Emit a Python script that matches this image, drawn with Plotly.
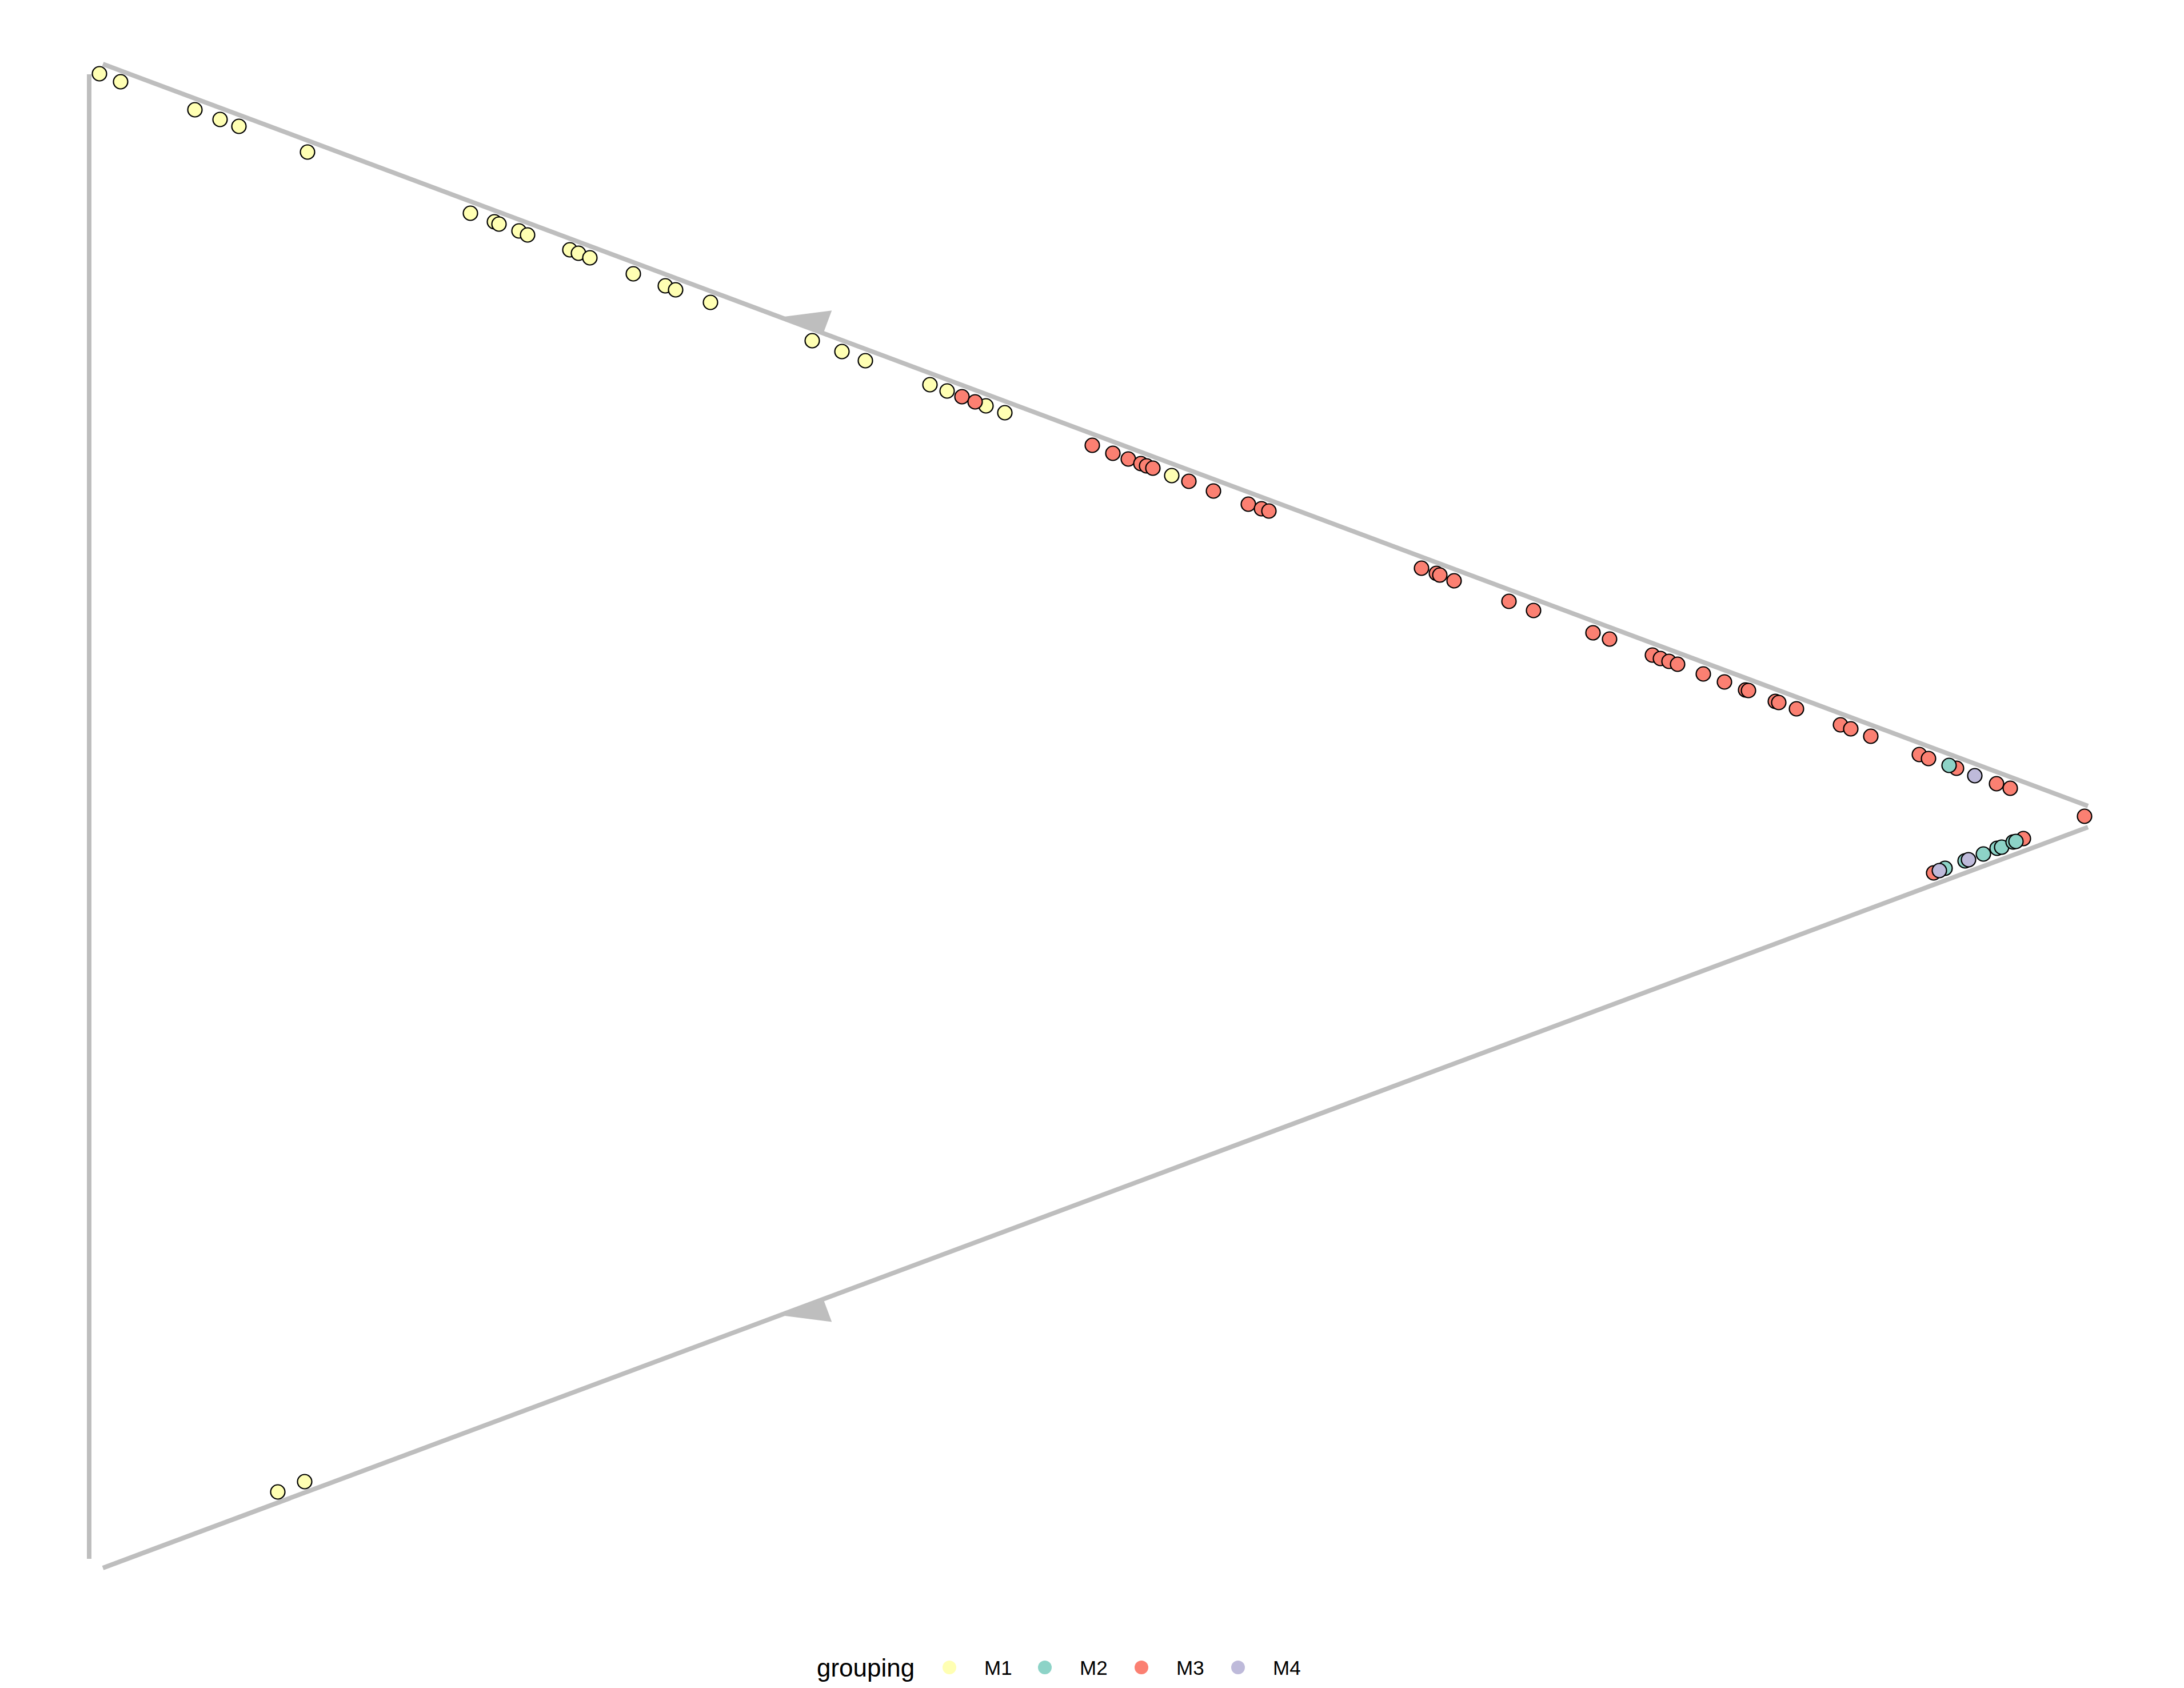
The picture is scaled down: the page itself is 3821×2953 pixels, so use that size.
import numpy as np
import plotly.graph_objects as go

# ---------------- data (trajectory layout units) ----------------
groups = ["M1", "M2", "M3", "M4"]
colors = {"M1": "#FFFFB3", "M2": "#8DD3C7", "M3": "#FB8072", "M4": "#BEBADA"}

m1_x = [174, 211, 341, 385, 418, 538, 823, 865, 873, 908, 923, 997, 1012, 1032, 1108, 1164, 1182, 1243,
        1421, 1473, 1514, 1627, 1657, 1725, 1758, 2050, 486, 533]
m1_y = [129, 143, 192, 209, 221, 266, 373, 388, 392, 404, 411, 437, 443, 451, 479, 500, 507, 529,
        596, 615, 631, 673, 684, 710, 722, 832, 2610, 2592]

m2_x = [3410, 3403, 3438, 3470, 3494, 3502, 3522, 3527]
m2_y = [1339, 1519, 1506, 1494, 1484, 1482, 1473, 1472]

m3_x = [1683, 1706, 1911, 1947, 1974, 1996, 2006, 2017, 2080, 2123, 2184, 2207, 2220,
        2487, 2513, 2519, 2544, 2640, 2683, 2787, 2816, 2891, 2905, 2920, 2935, 2980, 3017,
        3054, 3059, 3106, 3112, 3143, 3220, 3238, 3273, 3358, 3374, 3423, 3493, 3517, 3647,
        3383, 3540]
m3_y = [694, 703, 779, 793, 803, 811, 815, 819, 842, 859, 882, 890, 894,
        994, 1003, 1006, 1016, 1052, 1068, 1107, 1118, 1146, 1152, 1157, 1162, 1179, 1193,
        1207, 1208, 1227, 1229, 1240, 1268, 1275, 1288, 1320, 1327, 1344, 1371, 1379, 1428,
        1527, 1467]

m4_x = [3455, 3393, 3444]
m4_y = [1357, 1523, 1504]

# trajectory edges (start -> end)
edge_x0 = [156, 180, 180]
edge_y0 = [130, 112, 2743]
edge_x1 = [156, 3653, 3653]
edge_y1 = [2727, 1410, 1447]
# edges carrying arrows, arrow position fraction and outward side (+1 / -1)
arrow_edges = [1, 2]
arrow_t = [0.342, 0.342]
arrow_side = [-1, 1]

W, H = 3821, 2953
OFF = 8  # default page body margin
LINE_COL = "#BEBEBE"

fig = go.Figure()

# edges
for i in range(len(edge_x0)):
    fig.add_trace(go.Scatter(x=[edge_x0[i], edge_x1[i]], y=[edge_y0[i], edge_y1[i]],
                             mode="lines", line=dict(color=LINE_COL, width=8),
                             hoverinfo="skip", showlegend=False))

# half arrowheads pointing back toward the start of the edge
for e, t, s in zip(arrow_edges, arrow_t, arrow_side):
    p0 = np.array([edge_x0[e], edge_y0[e]], float)
    p1 = np.array([edge_x1[e], edge_y1[e]], float)
    d = p1 - p0
    u = d / np.linalg.norm(d)
    n = np.array([-u[1], u[0]])
    if n[1] * s < 0:
        n = -n
    tip = p0 + t * d
    back = tip + 76 * u
    corner = tip + 76 * u + 40 * n
    poly = np.array([tip, back, corner, tip])
    fig.add_trace(go.Scatter(x=poly[:, 0], y=poly[:, 1], mode="lines", fill="toself",
                             fillcolor=LINE_COL, line=dict(color=LINE_COL, width=3),
                             hoverinfo="skip", showlegend=False))

# points: draw order M1, M3, M2, M4
pts = {"M1": (m1_x, m1_y), "M2": (m2_x, m2_y), "M3": (m3_x, m3_y), "M4": (m4_x, m4_y)}
for g in ["M1", "M3", "M2", "M4"]:
    x, y = pts[g]
    fig.add_trace(go.Scatter(x=x, y=y, mode="markers", name=g,
                             marker=dict(size=25, color=colors[g],
                                         line=dict(color="black", width=2.2)),
                             showlegend=False))

# manual legend (ggplot style, bottom)
font_family = "Liberation Sans, Arial, Helvetica, sans-serif"
leg_y = 2917
fig.add_annotation(x=1427, y=leg_y, xref="x", yref="y", text="grouping", showarrow=False,
                   xanchor="left", yanchor="middle", font=dict(family=font_family, size=44, color="black"))
key_x = [1661, 1828, 1997, 2166]
for g, kx in zip(groups, key_x):
    fig.add_shape(type="circle", xref="x", yref="y", x0=kx - 12, x1=kx + 12, y0=leg_y - 12, y1=leg_y + 12,
                  fillcolor=colors[g], line=dict(width=0))
    fig.add_annotation(x=kx + 59, y=leg_y, xref="x", yref="y", text=g, showarrow=False,
                       xanchor="left", yanchor="middle", font=dict(family=font_family, size=35, color="black"))

fig.update_layout(width=W - 2 * OFF, height=H - 2 * OFF, margin=dict(l=0, r=0, t=0, b=0),
                  paper_bgcolor="white", plot_bgcolor="white",
                  xaxis=dict(range=[OFF, W - OFF], visible=False, fixedrange=True),
                  yaxis=dict(range=[H - OFF, OFF], visible=False, fixedrange=True),
                  showlegend=False)

fig.write_html("out.html")
